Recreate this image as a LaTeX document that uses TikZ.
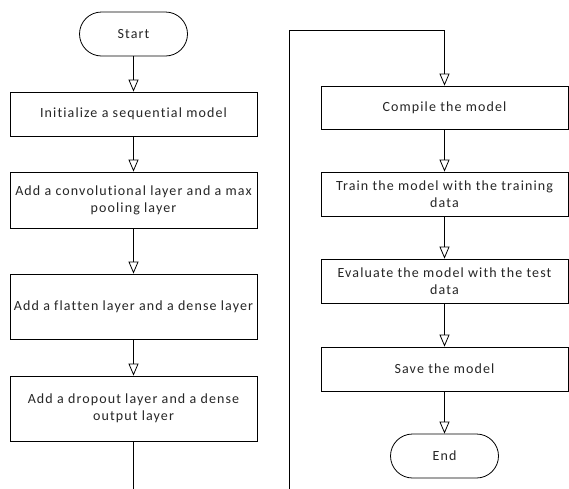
\documentclass[tikz,border=0pt]{standalone}
\usepackage{fontspec}
\setmainfont[LetterSpace=8, Ligatures=NoCommon]{Carlito}
\usepackage{tikz}
\usetikzlibrary{arrows.meta}

\tikzset{
  stepbox/.style={draw, line width=0.8pt, fill=white, minimum width=247pt, align=center, inner sep=2pt},
  termbox/.style={draw, line width=0.8pt, fill=white, rounded corners=22pt, minimum width=108pt, minimum height=44pt},
  flow/.style={line width=0.8pt, -{Triangle[open, width=10pt, length=12pt]}},
  plain/.style={line width=0.8pt}
}

\begin{document}
\begin{tikzpicture}[x=1pt, y=-1pt, font=\fontsize{14}{17}\selectfont, text=black!85]
\useasboundingbox (0,0) rectangle (569,488);

% left column
\node[termbox] (start) at (133.5, 34) {Start};
\node[stepbox, minimum height=44pt] (init) at (133.5, 114) {Initialize a sequential model};
\node[stepbox, minimum height=56pt] (conv) at (133.5, 200) {Add a convolutional layer and a max\\pooling layer};
\node[stepbox, minimum height=65pt] (flat) at (133.5, 306.5) {Add a flatten layer and a dense layer};
\node[stepbox, minimum height=65pt] (drop) at (133.5, 408.5) {Add a dropout layer and a dense\\output layer};

% right column
\node[stepbox, minimum height=43pt] (compile) at (444.5, 107.5) {Compile the model};
\node[stepbox, minimum height=44pt] (train) at (444.5, 194) {Train the model with the training\\data};
\node[stepbox, minimum height=44pt] (eval) at (444.5, 281) {Evaluate the model with the test\\data};
\node[stepbox, minimum height=44pt] (save) at (444.5, 369) {Save the model};
\node[termbox] (end) at (444.5, 456) {End};

\coordinate (leftend) at (133.5, 489);
\coordinate (rightstart) at (289, 489);
\coordinate (topturn) at (289, 30);

\draw[flow] (start) -- (init);
\draw[flow] (init) -- (conv);
\draw[flow] (conv) -- (flat);
\draw[flow] (flat) -- (drop);
\draw[plain] (drop) -- (leftend);

\draw[flow] (rightstart) -- (topturn) -| (compile);
\draw[flow] (compile) -- (train);
\draw[flow] (train) -- (eval);
\draw[flow] (eval) -- (save);
\draw[flow] (save) -- (end);
\end{tikzpicture}
\end{document}
